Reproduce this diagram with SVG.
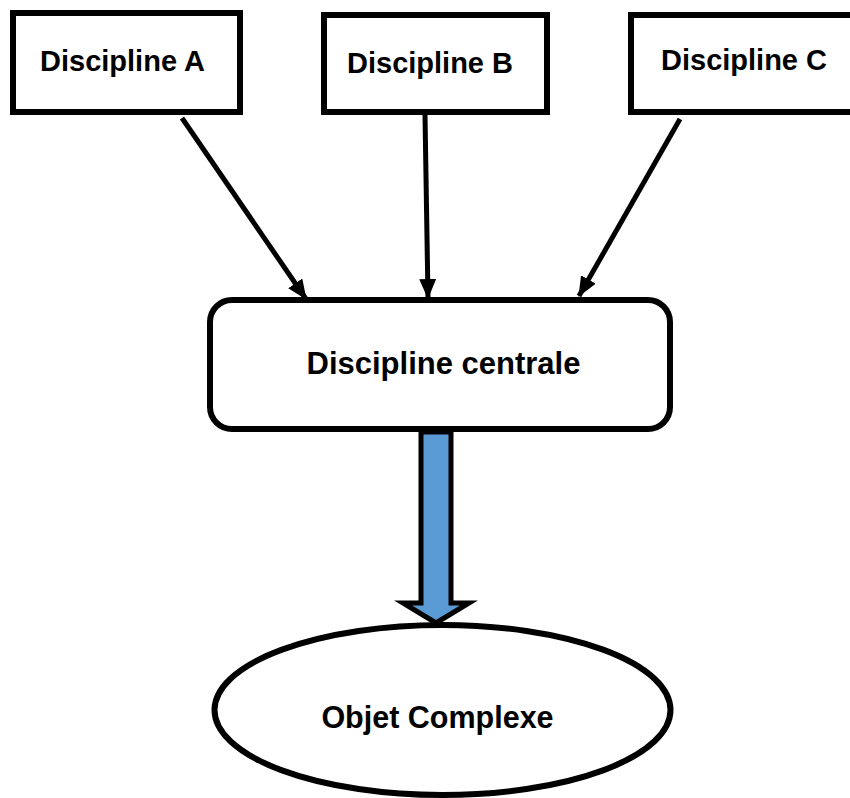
<svg xmlns="http://www.w3.org/2000/svg" width="850" height="798" viewBox="0 0 850 798">
<style>
.box{fill:#fff;stroke:#000;stroke-width:6}
.lbl{font-family:"Liberation Sans",Arial,sans-serif;font-weight:bold;fill:#000;text-anchor:middle}
.conn{stroke:#000;stroke-width:5;fill:none;marker-end:url(#ah)}
</style>
<defs>
<marker id="ah" markerUnits="userSpaceOnUse" viewBox="0 0 20 17" refX="19" refY="8.5" markerWidth="20" markerHeight="17" orient="auto">
<path d="M0,0 L20,8.5 L0,17 Z" fill="#000"/>
</marker>
</defs>
<rect width="850" height="798" fill="#fff"/>
<g id="connectors">
<line class="conn" x1="182" y1="118" x2="306" y2="299"/>
<line class="conn" x1="425" y1="115" x2="428" y2="298"/>
<line class="conn" x1="680" y1="119" x2="579" y2="296"/>
<path id="big-arrow" d="M421,432 L451,432 L451,603 L469,603 L436,623 L403,603 L421,603 Z" fill="#5B9BD5" stroke="#000" stroke-width="5" stroke-linejoin="miter"/>
</g>
<g id="disciplineA">
<rect class="box" x="13" y="13" width="227" height="99"/>
<text class="lbl" x="122.5" y="71" font-size="29">Discipline A</text>
</g>
<g id="disciplineB">
<rect class="box" x="324" y="15" width="223" height="97"/>
<text class="lbl" x="430" y="73" font-size="29">Discipline B</text>
</g>
<g id="disciplineC">
<rect class="box" x="631" y="15" width="230" height="97"/>
<text class="lbl" x="744" y="70" font-size="29">Discipline C</text>
</g>
<g id="centrale">
<rect class="box" x="210" y="300" width="460" height="129" rx="22" ry="22"/>
<text class="lbl" x="443.5" y="374" font-size="31">Discipline centrale</text>
</g>
<g id="objet">
<ellipse class="box" cx="442.5" cy="710" rx="228" ry="85"/>
<text class="lbl" x="437.5" y="728" font-size="30.5">Objet Complexe</text>
</g>
</svg>
